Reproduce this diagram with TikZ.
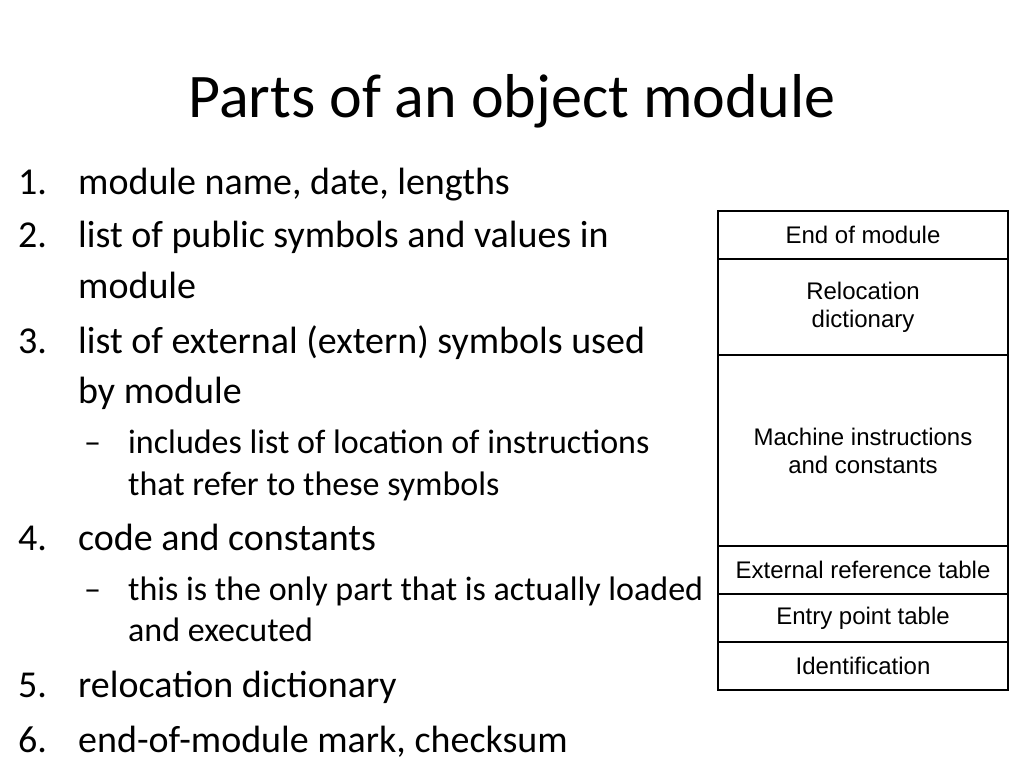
\documentclass[tikz,border=0pt]{standalone}
\usepackage{fontspec}
\setmainfont{Carlito}
\newfontfamily\tabfont{Liberation Sans}
\usetikzlibrary{positioning}
\begin{document}
\begin{tikzpicture}[x=1pt,y=-1pt]
\tikzstyle{itm}=[anchor=base west,inner sep=0pt,font=\fontsize{38}{44}\selectfont];
\tikzstyle{sub}=[anchor=base west,inner sep=0pt,font=\fontsize{34}{40}\selectfont];
\tikzstyle{row}=[draw,line width=1.8pt,outer sep=0pt,minimum width=290pt,inner sep=0pt,align=center,
  font=\tabfont\fontsize{24}{28}\selectfont];
\useasboundingbox (0,0) rectangle (1024,768);

\node[anchor=base,inner sep=0pt,font=\fontsize{62}{70}\selectfont] (title) at (512,117) {Parts of an object module};

% numbered items
\node[itm] (n1) at (18,194) {1.};  \node[itm] (t1) at (78,194) {module name, date, lengths};
\node[itm] (n2) at (18,247) {2.};  \node[itm] (t2) at (78,247) {list of public symbols and values in};
\node[itm] (t2b) at (78,298) {module};
\node[itm] (n3) at (18,353) {3.};  \node[itm] (t3) at (78,353) {list of external (extern) symbols used};
\node[itm] (t3b) at (78,403) {by module};
\node[sub] (d3) at (84,453) {--};  \node[sub] (s3) at (128,453) {includes list of location of instructions};
\node[sub] (s3b) at (128,495) {that refer to these symbols};
\node[itm] (n4) at (18,550) {4.};  \node[itm] (t4) at (78,550) {code and constants};
\node[sub] (d4) at (84,600) {--};  \node[sub] (s4) at (128,600) {this is the only part that is actually loaded};
\node[sub] (s4b) at (128,641) {and executed};
\node[itm] (n5) at (18,697) {5.};  \node[itm] (t5) at (78,697) {relocation dictionary};
\node[itm] (n6) at (18,752) {6.};  \node[itm] (t6) at (78,752) {end-of-module mark, checksum};

% object module layout
\node[row,minimum height=48pt,anchor=north west] (r1) at (718,211) {End of module};
\node[row,minimum height=96pt,below=0pt of r1] (r2) {Relocation\\dictionary};
\node[row,minimum height=191pt,below=0pt of r2] (r3) {Machine instructions\\and constants};
\node[row,minimum height=48pt,below=0pt of r3] (r4) {External reference table};
\node[row,minimum height=48pt,below=0pt of r4] (r5) {Entry point table};
\node[row,minimum height=48pt,below=0pt of r5] (r6) {Identification};
\end{tikzpicture}
\end{document}
